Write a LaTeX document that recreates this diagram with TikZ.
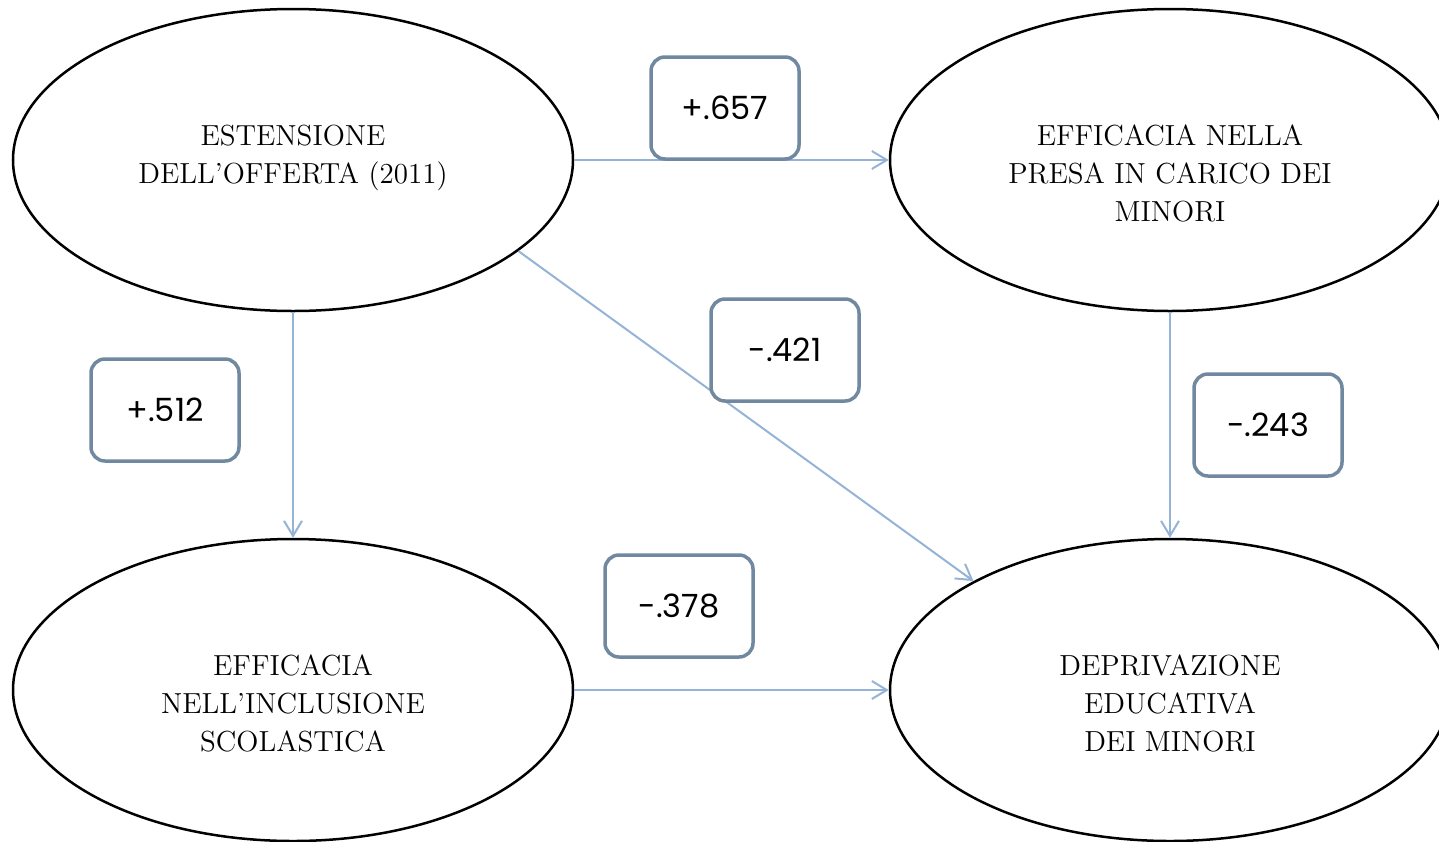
\documentclass[tikz,border=0pt]{standalone}
\usepackage{fontspec}
\newfontfamily\numfont{Poppins}
\usetikzlibrary{arrows.meta,shapes.geometric}
\definecolor{arrowblue}{RGB}{149,179,215}
\definecolor{boxgrey}{RGB}{112,137,160}
\tikzset{
  zone/.style={draw=black, line width=1.25pt, ellipse, minimum width=280pt, minimum height=151pt, inner sep=0pt},
  caption/.style={align=center, font=\fontsize{14.5}{19}\selectfont},
  coef/.style={draw=boxgrey, fill=white, line width=1.75pt, rounded corners=7pt, minimum width=74pt, minimum height=51pt, font=\numfont\fontsize{16}{18}\selectfont},
  path/.style={draw=arrowblue, line width=1pt, -{Straight Barb[length=7.5pt,width=9pt]}}
}
\begin{document}
\begin{tikzpicture}[x=0.5pt,y=-0.5pt]
  \useasboundingbox (0,0) rectangle (1439,841);
  %%%%% ELLIPSES %%%%%
  \node[zone] (tl) at (293,160) {};
  \node[zone] (tr) at (1170,160) {};
  \node[zone] (bl) at (293,690) {};
  \node[zone] (br) at (1170,690) {};

  \node[caption] (tltext) at (293,158) {ESTENSIONE\\DELL'OFFERTA (2011)};
  \node[caption] (trtext) at (1170,173) {EFFICACIA NELLA\\PRESA IN CARICO DEI\\MINORI};
  \node[caption] (bltext) at (293,703) {EFFICACIA\\NELL'INCLUSIONE\\SCOLASTICA};
  \node[caption] (brtext) at (1170,703) {DEPRIVAZIONE\\EDUCATIVA\\DEI MINORI};

  %%%%% PATHS %%%%%
  \draw[path] (tl.east) -- (tr.west);
  \draw[path] (tl.south) -- (bl.north);
  \draw[path] (tr.south) -- (br.north);
  \draw[path] (bl.east) -- (br.west);
  \draw[path] (tl.-22.5) -- (br.151);

  %%%%% COEFFICIENTS %%%%%
  \node[coef] (c657) at (725,108) {+.657};
  \node[coef] (c421) at (785,350) {-.421};
  \node[coef] (c512) at (165,410) {+.512};
  \node[coef] (c243) at (1268,425) {-.243};
  \node[coef] (c378) at (679,606) {-.378};
\end{tikzpicture}
\end{document}
